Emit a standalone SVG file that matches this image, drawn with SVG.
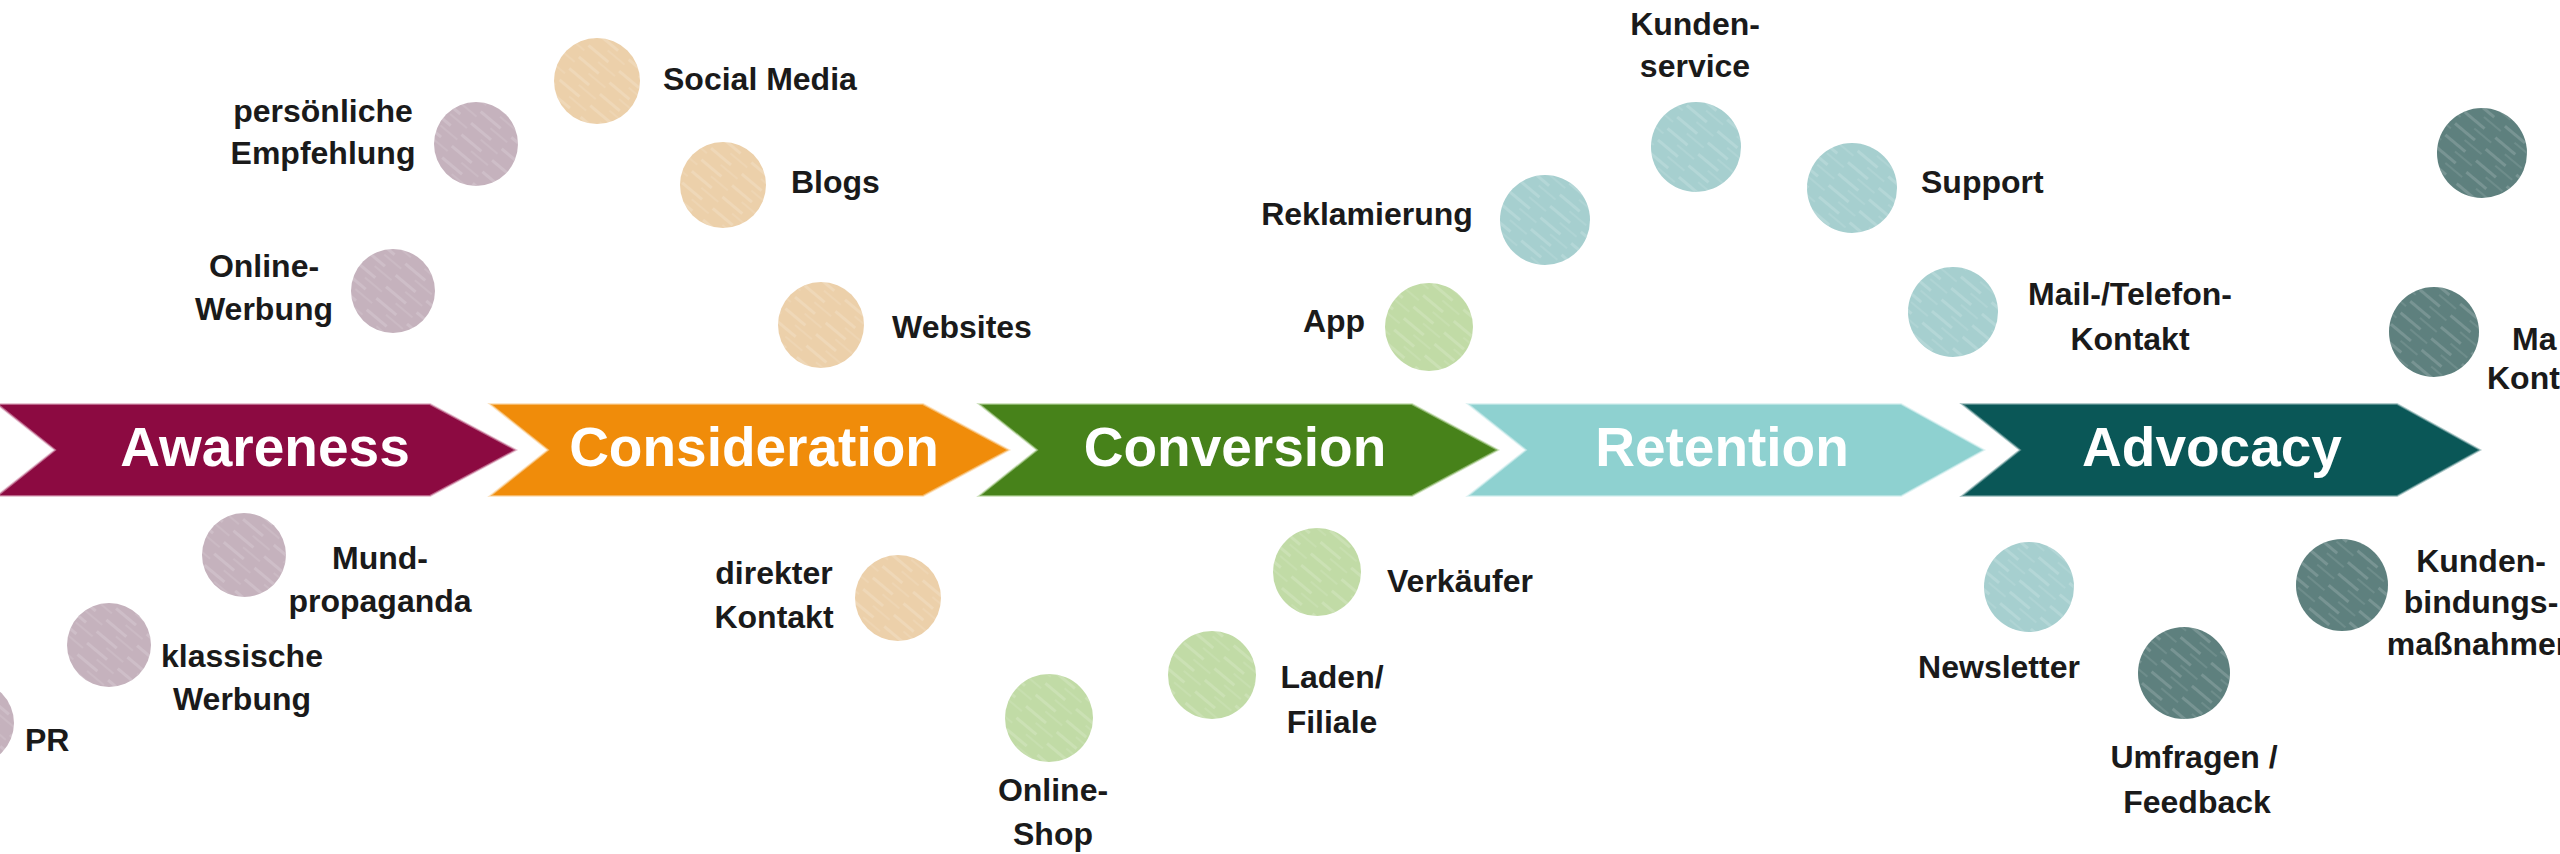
<svg xmlns="http://www.w3.org/2000/svg" width="2560" height="854" viewBox="0 0 2560 854">
<style>
.stage{font-family:"Liberation Sans",Arial,sans-serif;font-weight:700;font-size:55px;fill:#ffffff;text-anchor:middle}
.lbl{font-family:"Liberation Sans",Arial,sans-serif;font-weight:700;font-size:32px;fill:#1a1a1a;text-anchor:middle}
.st{text-anchor:start}
.c-aw{fill:#C5B2BD}
.c-co{fill:#ECD0AA}
.c-cv{fill:#C1DBA6}
.c-re{fill:#A6CFCF}
.c-ad{fill:#5E807E}
.tex{fill:url(#streaks)}
</style>
<defs>
<pattern id="streaks" patternUnits="userSpaceOnUse" width="40" height="15" patternTransform="rotate(40)">
<rect x="0" y="0" width="26" height="3" fill="#ffffff" fill-opacity="0.16"/>
<rect x="18" y="7" width="22" height="2" fill="#ffffff" fill-opacity="0.1"/>
</pattern>
</defs>
<rect width="2560" height="854" fill="#ffffff"/>

<g id="stages">
<g id="stage-awareness">
<polygon points="-3,404 430,404 516,450 430,496 -3,496 55,450" fill="#8C0A41" stroke="#D9A0B8" stroke-width="2" stroke-opacity="0.6"/>
<text class="stage" x="265" y="466">Awareness</text>
</g>
<g id="stage-consideration">
<polygon points="490,404 923,404 1009,450 923,496 490,496 548,450" fill="#F08C0A" stroke="#FAD3A0" stroke-width="2" stroke-opacity="0.6"/>
<text class="stage" x="754" y="466">Consideration</text>
</g>
<g id="stage-conversion">
<polygon points="979,404 1412,404 1498,450 1412,496 979,496 1037,450" fill="#47821A" stroke="#B5D39C" stroke-width="2" stroke-opacity="0.6"/>
<text class="stage" x="1235" y="466">Conversion</text>
</g>
<g id="stage-retention">
<polygon points="1468,404 1901,404 1984,450 1901,496 1468,496 1526,450" fill="#8ED1D0" stroke="#CFEDEC" stroke-width="2" stroke-opacity="0.6"/>
<text class="stage" x="1722" y="466">Retention</text>
</g>
<g id="stage-advocacy">
<polygon points="1962,404 2397,404 2480,450 2397,496 1962,496 2020,450" fill="#0A5757" stroke="#7FA9A9" stroke-width="2" stroke-opacity="0.6"/>
<text class="stage" x="2212" y="466">Advocacy</text>
</g>
</g>

<g id="connectors"></g>

<g id="nodes">
<g id="n-empfehlung">
<circle class="c-aw" cx="476" cy="144" r="42"/><circle class="tex" cx="476" cy="144" r="42"/>
<text class="lbl" x="323" y="122">persönliche</text>
<text class="lbl" x="323" y="164">Empfehlung</text>
</g>
<g id="n-onlinewerbung">
<circle class="c-aw" cx="393" cy="291" r="42"/><circle class="tex" cx="393" cy="291" r="42"/>
<text class="lbl" x="264" y="277">Online-</text>
<text class="lbl" x="264" y="320">Werbung</text>
</g>
<g id="n-mundpropaganda">
<circle class="c-aw" cx="244" cy="555" r="42"/><circle class="tex" cx="244" cy="555" r="42"/>
<text class="lbl" x="380" y="569">Mund-</text>
<text class="lbl" x="380" y="612">propaganda</text>
</g>
<g id="n-klassisch">
<circle class="c-aw" cx="109" cy="645" r="42"/><circle class="tex" cx="109" cy="645" r="42"/>
<text class="lbl" x="242" y="667">klassische</text>
<text class="lbl" x="242" y="710">Werbung</text>
</g>
<g id="n-pr">
<circle class="c-aw" cx="-28" cy="723" r="42"/><circle class="tex" cx="-28" cy="723" r="42"/>
<text class="lbl st" x="25" y="751">PR</text>
</g>

<g id="n-socialmedia">
<circle class="c-co" cx="597" cy="81" r="43"/><circle class="tex" cx="597" cy="81" r="43"/>
<text class="lbl st" x="663" y="90">Social Media</text>
</g>
<g id="n-blogs">
<circle class="c-co" cx="723" cy="185" r="43"/><circle class="tex" cx="723" cy="185" r="43"/>
<text class="lbl st" x="791" y="193">Blogs</text>
</g>
<g id="n-websites">
<circle class="c-co" cx="821" cy="325" r="43"/><circle class="tex" cx="821" cy="325" r="43"/>
<text class="lbl st" x="892" y="338">Websites</text>
</g>
<g id="n-direkt">
<circle class="c-co" cx="898" cy="598" r="43"/><circle class="tex" cx="898" cy="598" r="43"/>
<text class="lbl" x="774" y="584">direkter</text>
<text class="lbl" x="774" y="628">Kontakt</text>
</g>

<g id="n-app">
<circle class="c-cv" cx="1429" cy="327" r="44"/><circle class="tex" cx="1429" cy="327" r="44"/>
<text class="lbl" x="1334" y="332">App</text>
</g>
<g id="n-verkaeufer">
<circle class="c-cv" cx="1317" cy="572" r="44"/><circle class="tex" cx="1317" cy="572" r="44"/>
<text class="lbl st" x="1387" y="592">Verkäufer</text>
</g>
<g id="n-laden">
<circle class="c-cv" cx="1212" cy="675" r="44"/><circle class="tex" cx="1212" cy="675" r="44"/>
<text class="lbl" x="1332" y="688">Laden/</text>
<text class="lbl" x="1332" y="733">Filiale</text>
</g>
<g id="n-onlineshop">
<circle class="c-cv" cx="1049" cy="718" r="44"/><circle class="tex" cx="1049" cy="718" r="44"/>
<text class="lbl" x="1053" y="801">Online-</text>
<text class="lbl" x="1053" y="845">Shop</text>
</g>

<g id="n-reklamierung">
<circle class="c-re" cx="1545" cy="220" r="45"/><circle class="tex" cx="1545" cy="220" r="45"/>
<text class="lbl" x="1367" y="225">Reklamierung</text>
</g>
<g id="n-kundenservice">
<circle class="c-re" cx="1696" cy="147" r="45"/><circle class="tex" cx="1696" cy="147" r="45"/>
<text class="lbl" x="1695" y="35">Kunden-</text>
<text class="lbl" x="1695" y="77">service</text>
</g>
<g id="n-support">
<circle class="c-re" cx="1852" cy="188" r="45"/><circle class="tex" cx="1852" cy="188" r="45"/>
<text class="lbl st" x="1921" y="193">Support</text>
</g>
<g id="n-mailtelefon">
<circle class="c-re" cx="1953" cy="312" r="45"/><circle class="tex" cx="1953" cy="312" r="45"/>
<text class="lbl" x="2130" y="305">Mail-/Telefon-</text>
<text class="lbl" x="2130" y="350">Kontakt</text>
</g>
<g id="n-newsletter">
<circle class="c-re" cx="2029" cy="587" r="45"/><circle class="tex" cx="2029" cy="587" r="45"/>
<text class="lbl" x="1999" y="678">Newsletter</text>
</g>

<g id="n-adv-top">
<circle class="c-ad" cx="2482" cy="153" r="45"/><circle class="tex" cx="2482" cy="153" r="45"/>
</g>
<g id="n-adv-kontakt">
<circle class="c-ad" cx="2434" cy="332" r="45"/><circle class="tex" cx="2434" cy="332" r="45"/>
<text class="lbl st" x="2512" y="350">Ma</text>
<text class="lbl st" x="2487" y="389">Kont</text>
</g>
<g id="n-umfragen">
<circle class="c-ad" cx="2184" cy="673" r="46"/><circle class="tex" cx="2184" cy="673" r="46"/>
<text class="lbl" x="2194" y="768">Umfragen /</text>
<text class="lbl" x="2197" y="813">Feedback</text>
</g>
<g id="n-kundenbindung">
<circle class="c-ad" cx="2342" cy="585" r="46"/><circle class="tex" cx="2342" cy="585" r="46"/>
<text class="lbl" x="2481" y="572">Kunden-</text>
<text class="lbl" x="2481" y="613">bindungs-</text>
<text class="lbl" x="2481" y="655">maßnahmen</text>
</g>
</g>
</svg>
